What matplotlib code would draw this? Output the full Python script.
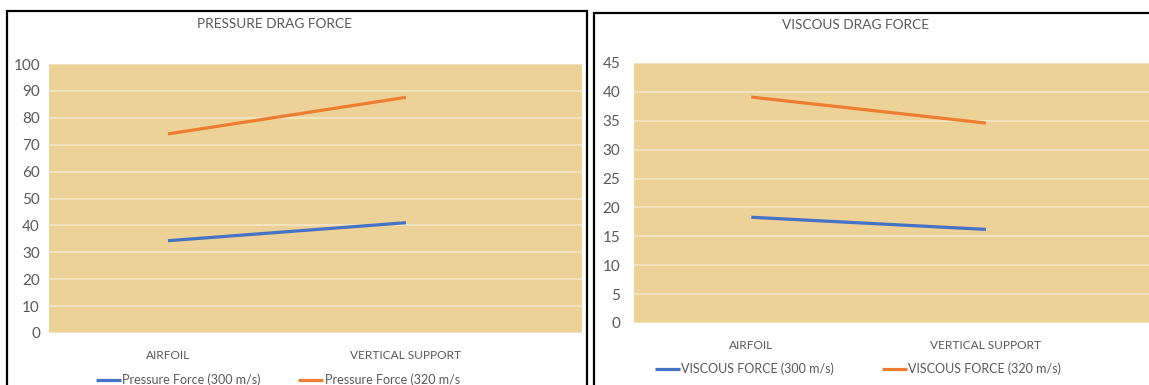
import matplotlib
matplotlib.use('Agg')
import matplotlib.pyplot as plt
from matplotlib.patches import Rectangle

plt.rcParams['font.family'] = ['Lato', 'DejaVu Sans']

categories = ['AIRFOIL', 'VERTICAL SUPPORT']

pressure_300 = [34.3, 41.0]
pressure_320 = [74.0, 87.6]
viscous_300 = [18.3, 16.2]
viscous_320 = [39.1, 34.6]

BLUE = '#4472C4'
ORANGE = '#ED7D31'
GREY = '#595959'
PAPER = '#ECD296'
GRID = '#F4E6C6'

W, H = 1149, 385
fig = plt.figure(figsize=(W / 100, H / 100), dpi=100)


def px_axes(left, top, right, bottom):
    return fig.add_axes([left / W, 1 - bottom / H, (right - left) / W, (bottom - top) / H])


def panel(left, top, right, bottom):
    fig.patches.append(Rectangle((left / W, 1 - bottom / H), (right - left) / W, (bottom - top) / H,
                                 transform=fig.transFigure, fill=False, edgecolor='black',
                                 linewidth=1.6, clip_on=False))


def draw(ax, s1, s2, labels, ymax, step, xright, title, title_xy, leg_xy, tickpad, colspace):
    x = list(range(len(categories)))
    ax.set_facecolor(PAPER)
    ax.plot(x, s1, color=BLUE, lw=2.3, solid_capstyle='butt', label=labels[0], zorder=3)
    ax.plot(x, s2, color=ORANGE, lw=2.3, solid_capstyle='butt', label=labels[1], zorder=3)
    ax.set_xlim(-0.5, xright)
    ax.set_ylim(0, ymax)
    ax.set_yticks(range(0, ymax + 1, step))
    ax.set_xticks(x)
    ax.set_xticklabels(categories, fontsize=8.6, color=GREY)
    ax.tick_params(axis='y', length=0, labelsize=11, labelcolor=GREY, pad=tickpad)
    ax.tick_params(axis='x', length=0, pad=12)
    ax.grid(axis='y', color=GRID, lw=1.2)
    ax.set_axisbelow(True)
    for s in ax.spines.values():
        s.set_visible(False)
    fig.text(title_xy[0] / W, 1 - title_xy[1] / H, title, ha='center', va='center',
             fontsize=9.8, color=GREY)
    fig.legend(handles=ax.get_lines(), loc='center', ncol=2, frameon=False,
               bbox_to_anchor=(leg_xy[0] / W, 1 - leg_xy[1] / H),
               fontsize=9, labelcolor=GREY, handlelength=2.0, handletextpad=0.1,
               columnspacing=colspace)


panel(7, 11, 587, 400)
panel(594, 13, 1160, 400)

ax1 = px_axes(49, 64, 582, 333)
draw(ax1, pressure_300, pressure_320, ['Pressure Force (300 m/s)', 'Pressure Force (320 m/s'],
     100, 10, 1.74, 'PRESSURE DRAG FORCE', (274, 24), (278, 380), 6.5, 3.0)

ax2 = px_axes(634, 63, 1149, 323)
draw(ax2, viscous_300, viscous_320, ['VISCOUS FORCE (300 m/s)', 'VISCOUS FORCE (320 m/s)'],
     45, 5, 1.695, 'VISCOUS DRAG FORCE', (855, 25), (858, 369), 10, 3.8)

fig.savefig('out.png', dpi=100, facecolor='white')
